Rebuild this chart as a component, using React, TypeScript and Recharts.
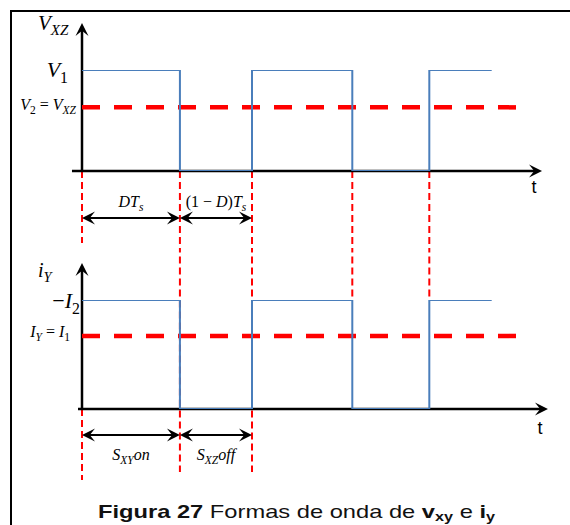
import React from 'react';
import { ComposedChart, Line, XAxis, YAxis, ReferenceLine } from 'recharts';

// switching instants (in units of Ts) and the normalised levels after each one
const switchTimes = [0, 0.576, 1.0, 1.59, 2.043, 2.41];
const vxzLevels = [1, 0, 1, 0, 1, 1];
const iyLevels = [1, 0, 1, 0, 1, 1];

// mean values, as a fraction of V1 and of -I2
const vxzMean = 0.63;
const iyMean = 0.67;
const meanEnd = 2.557;

// intervals marked with double arrows under each plot
const dutySpans = [
  { from: 0, to: 0.576, key: 'on' },
  { from: 0.576, to: 1.0, key: 'off' },
];

const vxzData = switchTimes.map((t, k) => ({ t, v: vxzLevels[k] }));
const iyData = switchTimes.map((t, k) => ({ t, i: iyLevels[k] }));

const MATH = '"Liberation Serif", "DejaVu Serif", serif';
const SANS = '"Liberation Sans", Arial, sans-serif';
const BLUE = '#4a7ebb';
const RED = '#ff0000';

type Part = { s: string; it?: boolean; sub?: boolean };
const I = (s: string): Part => ({ s, it: true });
const R = (s: string): Part => ({ s });
const Sub = (s: string, it = true): Part => ({ s, it, sub: true });

const LABELS: Record<string, Part[]> = {
  vxz: [I('V'), Sub('XZ')],
  v1: [I('V'), Sub('1', false)],
  v2: [I('V'), Sub('2', false), R(' = '), I('V'), Sub('XZ')],
  iy: [I('i'), Sub('Y')],
  i2: [R('\u2212'), I('I'), Sub('2', false)],
  i1: [I('I'), Sub('Y'), R(' = '), I('I'), Sub('1', false)],
  dts: [I('DT'), Sub('s')],
  dts2: [R('(1 \u2212 '), I('D'), R(')'), I('T'), Sub('s')],
  on: [I('S'), Sub('XY'), I('on')],
  off: [I('S'), Sub('XZ'), I('off')],
};

function MathText({ x, y, parts, size, anchor = 'start' }: { x: number; y: number; parts: Part[]; size: number; anchor?: string }) {
  let shift = 0;
  return (
    <text x={x} y={y} fontFamily={MATH} fontSize={size} textAnchor={anchor as any} fill="#000">
      {parts.map((p, k) => {
        const target = p.sub ? size * 0.25 : 0;
        const dy = target - shift;
        shift = target;
        return (
          <tspan key={k} dy={dy} fontStyle={p.it ? 'italic' : 'normal'} fontSize={p.sub ? size * 0.72 : size}>
            {p.s}
          </tspan>
        );
      })}
    </text>
  );
}

// stealth arrow head with its tip at (x, y)
function head(x: number, y: number, angle: number, len = 13, wid = 13) {
  const c = Math.cos(angle);
  const s = Math.sin(angle);
  const pts = [[0, 0], [-len, wid / 2], [-len * 0.6, 0], [-len, -wid / 2]];
  return pts.map(([px, py]) => `${x + px * c - py * s},${y + px * s + py * c}`).join(' ');
}

const axisArrow = (label?: (x: number, y: number) => React.ReactNode) => (p: any) => {
  const a = Math.atan2(p.y2 - p.y1, p.x2 - p.x1);
  const bx = p.x2 - Math.cos(a) * 6;
  const by = p.y2 - Math.sin(a) * 6;
  return (
    <g>
      <line x1={p.x1} y1={p.y1} x2={bx} y2={by} stroke="#000" strokeWidth={2.5} />
      <polygon points={head(p.x2, p.y2, a)} fill="#000" />
      {label && label(p.x2, p.y2)}
    </g>
  );
};

const spanArrow = (parts: Part[], dy: number) => (p: any) => {
  const cx = (p.x1 + p.x2) / 2;
  return (
    <g>
      <line x1={p.x1 + 6} y1={p.y1} x2={p.x2 - 6} y2={p.y2} stroke="#000" strokeWidth={2} />
      <polygon points={head(p.x1, p.y1, Math.PI)} fill="#000" />
      <polygon points={head(p.x2, p.y2, 0)} fill="#000" />
      <MathText x={cx} y={p.y1 + dy} parts={parts} size={16} anchor="middle" />
    </g>
  );
};

const levelTick = (cfg: Record<string, { label: string; dx: number; dy: number; size: number }>) => (p: any) => {
  const c = cfg[String(p.payload.value)];
  if (!c) return null;
  return <MathText x={p.x + c.dx} y={p.y + c.dy} parts={LABELS[c.label]} size={c.size} anchor="end" />;
};

const guide = (t: number, y0: number, y1: number) => (
  <ReferenceLine
    key={`g-${t}-${y0}`}
    segment={[{ x: t, y: y0 }, { x: t, y: y1 }]}
    stroke={RED}
    strokeWidth={2}
    strokeDasharray="7 4"
    ifOverflow="visible"
  />
);

function VxzPlot() {
  return (
    <ComposedChart width={570} height={250} data={vxzData} margin={{ top: 70, right: 63, bottom: 79, left: 10 }}>
      <XAxis dataKey="t" type="number" domain={[0, 2.5]} hide allowDataOverflow />
      <YAxis
        type="number"
        domain={[0, 1]}
        width={72}
        ticks={[vxzMean, 1]}
        interval={0}
        axisLine={false}
        tickLine={false}
        tickSize={0}
        tickMargin={0}
        allowDataOverflow
        tick={levelTick({
          '1': { label: 'v1', dx: -14, dy: 7, size: 22 },
          [String(vxzMean)]: { label: 'v2', dx: -6, dy: 3, size: 16 },
        })}
      />
      {guide(0, 0, -0.713)}
      {switchTimes.slice(1, 5).map((t) => guide(t, 0, -0.8))}
      <ReferenceLine
        segment={[{ x: -0.059, y: 0 }, { x: 2.706, y: 0 }]}
        ifOverflow="visible"
        shape={axisArrow((x, y) => (
          <text x={x - 8} y={y + 22} fontFamily={SANS} fontSize={18} textAnchor="middle">t</text>
        ))}
      />
      <ReferenceLine
        segment={[{ x: 0, y: 0 }, { x: 0, y: 1.465 }]}
        ifOverflow="visible"
        shape={axisArrow((x, y) => <MathText x={x - 44} y={y + 7} parts={LABELS.vxz} size={21} />)}
      />
      <ReferenceLine
        segment={[{ x: 0, y: vxzMean }, { x: meanEnd, y: vxzMean }]}
        stroke={RED}
        strokeWidth={4.5}
        strokeDasharray="18 14"
        ifOverflow="visible"
      />
      <Line type="stepAfter" dataKey="v" stroke={BLUE} strokeWidth={2} dot={false} isAnimationActive={false} zIndex={1000} />
      {dutySpans.map((s) => (
        <ReferenceLine
          key={s.key}
          segment={[{ x: s.from, y: -0.465 }, { x: s.to, y: -0.465 }]}
          ifOverflow="visible"
          shape={spanArrow(s.key === 'on' ? LABELS.dts : LABELS.dts2, -11)}
        />
      ))}
    </ComposedChart>
  );
}

function IyPlot() {
  return (
    <ComposedChart width={570} height={275} data={iyData} margin={{ top: 50, right: 63, bottom: 116, left: 10 }}>
      <XAxis dataKey="t" type="number" domain={[0, 2.5]} hide allowDataOverflow />
      <YAxis
        type="number"
        domain={[0, 1]}
        width={72}
        ticks={[iyMean, 1]}
        interval={0}
        axisLine={false}
        tickLine={false}
        tickSize={0}
        tickMargin={0}
        allowDataOverflow
        tick={levelTick({
          '1': { label: 'i2', dx: -2, dy: 8, size: 22 },
          [String(iyMean)]: { label: 'i1', dx: -12, dy: 1.5, size: 16 },
        })}
      />
      {guide(0, 0, -0.651)}
      {switchTimes.slice(1, 3).map((t) => guide(t, 1.5, -0.578))}
      {switchTimes.slice(3, 5).map((t) => guide(t, 1.5, 1))}
      <ReferenceLine
        segment={[{ x: -0.0235, y: 0 }, { x: 2.741, y: 0 }]}
        ifOverflow="visible"
        shape={axisArrow((x, y) => (
          <text x={x - 8} y={y + 25} fontFamily={SANS} fontSize={18} textAnchor="middle">t</text>
        ))}
      />
      <ReferenceLine
        segment={[{ x: 0, y: 0 }, { x: 0, y: 1.339 }]}
        ifOverflow="visible"
        shape={axisArrow((x, y) => <MathText x={x - 44} y={y + 14} parts={LABELS.iy} size={20} />)}
      />
      <ReferenceLine
        segment={[{ x: 0, y: iyMean }, { x: meanEnd, y: iyMean }]}
        stroke={RED}
        strokeWidth={4.5}
        strokeDasharray="18 14"
        ifOverflow="visible"
      />
      <Line type="stepAfter" dataKey="i" stroke={BLUE} strokeWidth={2} dot={false} isAnimationActive={false} zIndex={1000} />
      {dutySpans.map((s) => (
        <ReferenceLine
          key={s.key}
          segment={[{ x: s.from, y: -0.239 }, { x: s.to, y: -0.239 }]}
          ifOverflow="visible"
          shape={spanArrow(LABELS[s.key], 25)}
        />
      ))}
    </ComposedChart>
  );
}

export default function App() {
  return (
    <div style={{ position: 'absolute', left: 0, top: 0, width: 570, height: 525, background: '#fff', overflow: 'hidden' }}>
      <div style={{ position: 'absolute', left: 10, top: 10, width: 570, height: 525, borderTop: '2px solid #000', borderLeft: '2px solid #000' }} />
      <div style={{ position: 'absolute', left: 0, top: 0 }}>
        <VxzPlot />
      </div>
      <div style={{ position: 'absolute', left: 0, top: 250 }}>
        <IyPlot />
      </div>
      <svg width={570} height={40} style={{ position: 'absolute', left: 0, top: 490 }}>
        <text x={296.5} y={28} fontFamily={SANS} fontSize={19} textAnchor="middle" textLength={397} lengthAdjust="spacingAndGlyphs" fill="#111">
          <tspan fontWeight="bold">Figura 27</tspan>
          <tspan> Formas de onda de </tspan>
          <tspan fontWeight="bold">v</tspan>
          <tspan fontWeight="bold" fontSize={13} dy={3}>xy</tspan>
          <tspan dy={-3}> e </tspan>
          <tspan fontWeight="bold">i</tspan>
          <tspan fontWeight="bold" fontSize={13} dy={3}>y</tspan>
        </text>
      </svg>
    </div>
  );
}
